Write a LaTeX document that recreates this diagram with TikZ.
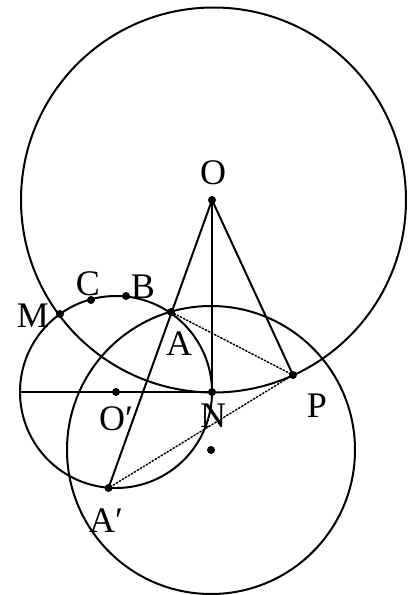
\documentclass[tikz,border=0pt]{standalone}
\usepackage{fontspec}
\setmainfont{Liberation Serif}
\usetikzlibrary{calc}

\begin{document}
\begin{tikzpicture}[x=1pt,y=-1pt,line cap=round,line join=round,line width=2pt,
  dot/.style={fill,circle,inner sep=0pt,minimum size=8pt},
  lbl/.style={font=\fontsize{36}{38}\selectfont,inner sep=0pt}]
  \useasboundingbox (0,0) rectangle (410,595);
  \coordinate (O) at (212,200); \coordinate (N) at (212,392); \coordinate (Oq) at (116,392);
  \coordinate (K) at (211,450); \coordinate (L) at (21,392);
  \coordinate (M) at (60,314); \coordinate (C) at (91,300); \coordinate (B) at (126,296);
  \coordinate (A) at (171,312); \coordinate (P) at (293,375); \coordinate (Aq) at (108.5,488);
  \draw ($(O)+(1.5,0)$) circle (192.5pt); \draw (Oq) circle (96pt); \draw (K) circle (144pt);
  \draw (O)--(Aq); \draw (O)--(N); \draw (O)--(P); \draw (L)--(N);
  \draw[dotted,line width=1.5pt] (A)--(P)--(Aq);
  \foreach \p in {O,N,Oq,K,M,C,B,A,P,Aq} \node[dot] (d\p) at (\p) {};
  \node[lbl] (lO) at (213,173) {O}; \node[lbl] (lC) at (88,284) {C}; \node[lbl] (lB) at (143,287) {B};
  \node[lbl] (lM) at (33,316) {M}; \node[lbl] (lA) at (179,344) {A}; \node[lbl] (lOq) at (116,419) {O′};
  \node[lbl] (lN) at (213,416) {N}; \node[lbl] (lP) at (317,406) {P}; \node[lbl] (lAq) at (106,521) {A′};
\end{tikzpicture}
\end{document}
